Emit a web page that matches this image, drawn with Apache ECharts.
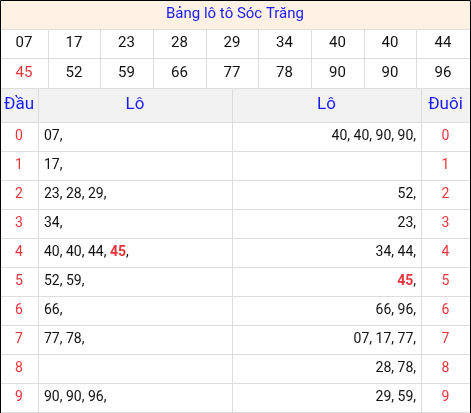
<!DOCTYPE html>
<html>
<head>
<meta charset="utf-8">
<script src="https://cdn.jsdelivr.net/npm/echarts@6/dist/echarts.min.js"></script>
<style>
  html, body { margin: 0; padding: 0; background: #fff; }
  #chart { width: 471px; height: 413px; }
</style>
</head>
<body>
<div id="chart"></div>
<script>
const title = 'Bảng lô tô Sóc Trăng';
const prizesRow1 = ['07', '17', '23', '28', '29', '34', '40', '40', '44'];
const prizesRow2 = ['45', '52', '59', '66', '77', '78', '90', '90', '96'];
const headers = ['Đầu', 'Lô', 'Lô', 'Đuôi'];
const heads = ['0', '1', '2', '3', '4', '5', '6', '7', '8', '9'];
const loByHead = [['07'], ['17'], ['23', '28', '29'], ['34'], ['40', '40', '44', '45'], ['52', '59'], ['66'], ['77', '78'], [], ['90', '90', '96']];
const loByTail = [['40', '40', '90', '90'], [], ['52'], ['23'], ['34', '44'], ['45'], ['66', '96'], ['07', '17', '77'], ['28', '78'], ['29', '59']];
const special = '45';

// layout (pixels)
const topCols = [0, 48, 100, 153, 206, 258, 311, 364, 416, 470];
const botCols = [0, 38, 232, 421, 470];
const rowEdges = [0, 29, 58, 88, 122];
for (let i = 1; i <= 10; i++) rowEdges.push(122 + i * 29);

const fmt = (list) => list.map(v => v === special ? '{r|' + v + '}' : v).join(', ') + (list.length ? ',' : '');

// cells: [x0, x1, rowIndex, text, align, color, bg, fontSize]
const cells = [];
cells.push([0, 470, 0, title, 'center', '#1a1aff', '#fdf1e3', 15]);
prizesRow1.forEach((v, i) => cells.push([topCols[i], topCols[i + 1], 1, v, 'center', '#111', '#fff', 15]));
prizesRow2.forEach((v, i) => cells.push([topCols[i], topCols[i + 1], 2, v, 'center', v === special ? '#e8353b' : '#111', '#fff', 15]));
headers.forEach((h, i) => cells.push([botCols[i], botCols[i + 1], 3, h, 'center', '#1a1aff', '#f2f2f2', 17]));
heads.forEach((h, i) => {
  cells.push([botCols[0], botCols[1], 4 + i, h, 'center', '#e8353b', '#fff', 14]);
  cells.push([botCols[1], botCols[2], 4 + i, fmt(loByHead[i]), 'left', '#111', '#fff', 14]);
  cells.push([botCols[2], botCols[3], 4 + i, fmt(loByTail[i]), 'right', '#111', '#fff', 14]);
  cells.push([botCols[3], botCols[4], 4 + i, h, 'center', '#e8353b', '#fff', 14]);
});

const chart = echarts.init(document.getElementById('chart'));
chart.setOption({
  animation: false,
  grid: { left: 0, right: 0, top: 0, bottom: 0 },
  xAxis: { type: 'value', min: 0, max: 471, show: false },
  yAxis: { type: 'value', min: 0, max: 413, inverse: true, show: false },
  series: [{
    type: 'custom',
    data: cells.map((c, i) => [c[0], c[1], c[2], i]),
    renderItem: (params, api) => {
      const c = cells[api.value(3)];
      const r = c[2];
      const p0 = api.coord([c[0], rowEdges[r]]);
      const p1 = api.coord([c[1], rowEdges[r + 1]]);
      const w = p1[0] - p0[0], h = p1[1] - p0[1];
      let tx = p0[0] + w / 2;
      if (c[4] === 'left') tx = p0[0] + 6;
      if (c[4] === 'right') tx = p1[0] - 5;
      return {
        type: 'group',
        children: [
          { type: 'rect', shape: { x: p0[0] + 0.5, y: p0[1] + 0.5, width: w, height: h },
            style: { fill: c[6], stroke: '#dddddd', lineWidth: 1 } },
          { type: 'text', x: tx, y: p0[1] + h / 2,
            style: { text: c[3], fill: c[5], align: c[4], verticalAlign: 'middle',
              fontFamily: 'Roboto', fontSize: c[7],
              rich: { r: { fill: '#e8353b', fontWeight: 'bold', fontFamily: 'Roboto', fontSize: c[7] } } } }
        ]
      };
    }
  }],
  graphic: [{ type: 'rect', shape: { x: 0.5, y: 0.5, width: 470, height: 420 },
    style: { fill: null, stroke: '#000', lineWidth: 1 }, z: 100 }]
});
</script>
</body>
</html>
